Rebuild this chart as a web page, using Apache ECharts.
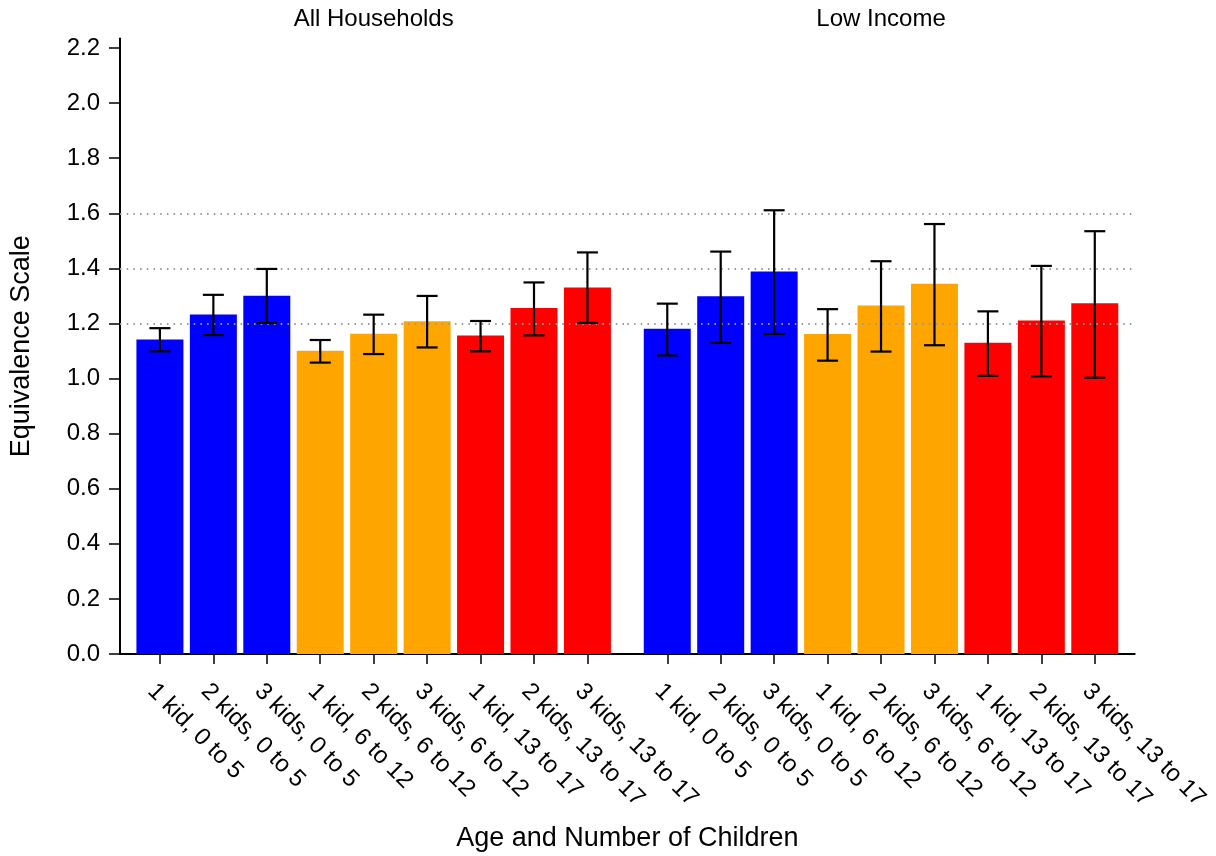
<!DOCTYPE html>
<html>
<head>
<meta charset="utf-8">
<title>Equivalence Scale by Age and Number of Children</title>
<script src="https://cdn.jsdelivr.net/npm/echarts@6/dist/echarts.min.js"></script>
<style>
  html, body { margin: 0; padding: 0; background: #fff; }
  #chart { width: 1216px; height: 856px; }
</style>
</head>
<body>
<div id="chart"></div>
<script>
// Household types shown in each panel
const categories = [
  '1 kid, 0 to 5', '2 kids, 0 to 5', '3 kids, 0 to 5',
  '1 kid, 6 to 12', '2 kids, 6 to 12', '3 kids, 6 to 12',
  '1 kid, 13 to 17', '2 kids, 13 to 17', '3 kids, 13 to 17'
];
const panelTitles = ['All Households', 'Low Income'];

// All households: estimate and confidence bounds
const allValues = [1.142, 1.233, 1.301, 1.101, 1.163, 1.208, 1.156, 1.256, 1.331];
const allLow    = [1.099, 1.158, 1.202, 1.058, 1.089, 1.113, 1.099, 1.157, 1.202];
const allHigh   = [1.183, 1.304, 1.398, 1.140, 1.232, 1.300, 1.209, 1.349, 1.458];

// Low income households: estimate and confidence bounds
const lowValues = [1.181, 1.299, 1.389, 1.162, 1.265, 1.344, 1.130, 1.211, 1.273];
const lowLow    = [1.084, 1.130, 1.162, 1.065, 1.098, 1.121, 1.010, 1.008, 1.003];
const lowHigh   = [1.272, 1.461, 1.611, 1.252, 1.426, 1.561, 1.244, 1.409, 1.535];

// Dotted reference levels and y tick values
const refLines = [1.2, 1.4, 1.6];
const yTicks = [0, 0.2, 0.4, 0.6, 0.8, 1.0, 1.2, 1.4, 1.6, 1.8, 2.0, 2.2];

const yAxisLabel = 'Equivalence Scale';
const xAxisLabel = 'Age and Number of Children';

// One colour per age group (three bars each)
const groupColors = ['#0000ff', '#ffa500', '#ff0000'];

const FONT = 'Liberation Sans, Arial, sans-serif';
const Y_MAX = 2.235;
const X_PAD = 0.747;
const GRID_TOP = 38.4;
const GRID_H = 615.6;
const PANEL_W = 507.35;
const PANEL_LEFT = [120, 627.35];

const panelData = [
  { values: allValues, low: allLow, high: allHigh },
  { values: lowValues, low: lowLow, high: lowHigh }
];

const chart = echarts.init(document.getElementById('chart'), null, { renderer: 'canvas' });

const positions = categories.map((_, i) => i);

const grids = PANEL_LEFT.map(left => ({
  left: left, top: GRID_TOP, width: PANEL_W, height: GRID_H, containLabel: false
}));

const xAxes = PANEL_LEFT.map((_, p) => ({
  type: 'value',
  gridIndex: p,
  min: -X_PAD,
  max: categories.length - 1 + X_PAD,
  splitLine: { show: false },
  axisLine: { show: true, onZero: false, lineStyle: { color: '#000', width: 2 } },
  axisTick: { show: true, customValues: positions, length: 10, lineStyle: { color: '#000', width: 1.5 } },
  axisLabel: {
    show: true,
    customValues: positions,
    formatter: v => categories[Math.round(v)],
    rotate: -45,
    verticalAlign: 'top',
    margin: 25,
    fontSize: 24,
    fontFamily: FONT,
    color: '#000'
  }
}));

const yAxes = PANEL_LEFT.map((_, p) => ({
  type: 'value',
  gridIndex: p,
  min: 0,
  max: Y_MAX,
  show: p === 0,
  name: p === 0 ? yAxisLabel : '',
  nameLocation: 'middle',
  nameGap: 85,
  nameTextStyle: { fontSize: 27, fontFamily: FONT, color: '#000' },
  splitLine: { show: false },
  axisLine: { show: true, onZero: false, lineStyle: { color: '#000', width: 2 } },
  axisTick: { show: true, customValues: yTicks, length: 11, lineStyle: { color: '#000', width: 1.5 } },
  axisLabel: {
    customValues: yTicks,
    formatter: v => v.toFixed(1),
    margin: 20,
    fontSize: 24,
    fontFamily: FONT,
    color: '#000'
  }
}));

const series = [];
panelData.forEach((d, p) => {
  series.push({
    type: 'bar',
    xAxisIndex: p,
    yAxisIndex: p,
    barWidth: 47,
    z: 2,
    data: d.values.map((v, i) => [i, v]),
    itemStyle: {
      color: params => groupColors[Math.floor(params.dataIndex / 3)]
    },
    animation: false
  });
  series.push({
    type: 'custom',
    xAxisIndex: p,
    yAxisIndex: p,
    z: 4,
    data: d.low.map((lo, i) => [i, lo, d.high[i]]),
    renderItem: (params, api) => {
      const x = api.value(0);
      const lo = api.coord([x, api.value(1)]);
      const hi = api.coord([x, api.value(2)]);
      const cap = 10.5;
      const style = { stroke: '#000', lineWidth: 2.2 };
      return {
        type: 'group',
        children: [
          { type: 'line', shape: { x1: lo[0], y1: lo[1], x2: hi[0], y2: hi[1] }, style },
          { type: 'line', shape: { x1: hi[0] - cap, y1: hi[1], x2: hi[0] + cap, y2: hi[1] }, style },
          { type: 'line', shape: { x1: lo[0] - cap, y1: lo[1], x2: lo[0] + cap, y2: lo[1] }, style }
        ]
      };
    },
    markLine: {
      silent: true,
      symbol: ['none', 'none'],
      label: { show: false },
      z: 3,
      lineStyle: { color: '#999', width: 2, type: [1.5, 5.2] },
      data: refLines.map(v => ({ yAxis: v }))
    },
    animation: false
  });
});

const titles = panelTitles.map((t, p) => ({
  text: t,
  left: PANEL_LEFT[p] + PANEL_W / 2,
  top: 7,
  padding: 0,
  textAlign: 'center',
  textStyle: { fontSize: 24, fontWeight: 'normal', fontFamily: FONT, color: '#000' }
}));
titles.push({
  text: xAxisLabel,
  left: PANEL_LEFT[0] + PANEL_W,
  top: 825,
  padding: 0,
  textAlign: 'center',
  textStyle: { fontSize: 27, fontWeight: 'normal', fontFamily: FONT, color: '#000' }
});

chart.setOption({
  animation: false,
  backgroundColor: '#fff',
  title: titles,
  grid: grids,
  xAxis: xAxes,
  yAxis: yAxes,
  series: series
});
</script>
</body>
</html>
